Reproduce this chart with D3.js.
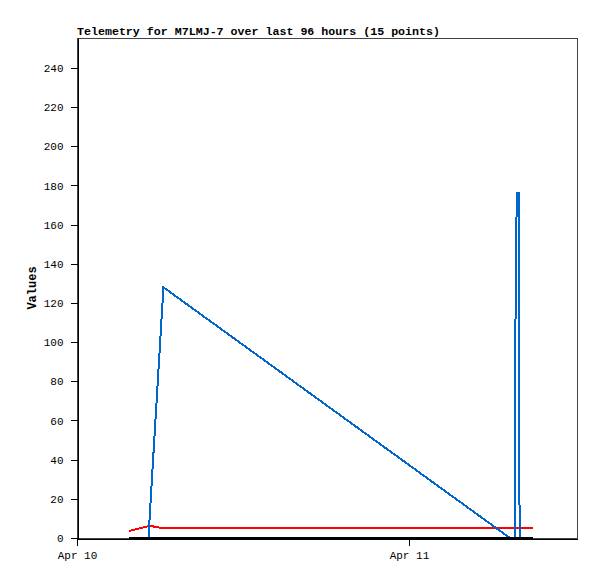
<!DOCTYPE html>
<html>
<head>
<meta charset="utf-8">
<script src="https://cdn.jsdelivr.net/npm/d3@7"></script>
<style>
  body { margin: 0; background: #fff; }
  svg { display: block; }
  text { font-family: "Liberation Mono", "DejaVu Sans Mono", monospace; }
</style>
</head>
<body>
<svg id="chart" width="597" height="579"></svg>
<script>
const title = "Telemetry for M7LMJ-7 over last 96 hours (15 points)";
const yLabel = "Values";
const times = ["2024-04-10 03:46", "2024-04-10 05:10", "2024-04-10 05:25", "2024-04-10 06:15",
  "2024-04-11 07:18", "2024-04-11 07:39", "2024-04-11 07:40", "2024-04-11 07:43",
  "2024-04-11 07:48", "2024-04-11 07:56", "2024-04-11 07:57", "2024-04-11 07:58",
  "2024-04-11 08:00", "2024-04-11 08:32", "2024-04-11 08:58"];
const blueValues = [0, 0, 30, 128, 0, 0, 44, 132, 176, 176, 132, 88, 0, 0, 0];
const redValues = [3.6, 6.1, 6.0, 5.0, 5, 5, 5, 5, 5, 5, 5, 5, 5, 5, 5];
const blackValues = [0, 0, 0, 0, 0, 0, 0, 0, 0, 0, 0, 0, 0, 0, 0];
const xDomain = ["2024-04-10 00:00", "2024-04-11 12:09"];
const xTicks = ["2024-04-10 00:00", "2024-04-11 00:00"];
const xTickLabels = ["Apr 10", "Apr 11"];
const yTicks = [0, 20, 40, 60, 80, 100, 120, 140, 160, 180, 200, 220, 240];
const yMax = 255.3;

const parse = d3.timeParse("%Y-%m-%d %H:%M");
const svg = d3.select("#chart");
const m = { left: 77, top: 38, right: 577, bottom: 538 };

const x = d3.scaleTime().domain(xDomain.map(parse)).range([m.left, m.right]);
const y = d3.scaleLinear().domain([0, yMax]).range([m.bottom, m.top]);

// frame
svg.append("rect")
  .attr("x", m.left + 0.5).attr("y", m.top + 0.5)
  .attr("width", m.right - m.left).attr("height", m.bottom - m.top)
  .attr("fill", "none").attr("stroke", "#444").attr("stroke-width", 1)
  .attr("shape-rendering", "crispEdges");

// y axis
const yAxis = d3.axisLeft(y).tickValues(yTicks).tickSize(7).tickPadding(7).tickSizeOuter(0);
const gy = svg.append("g").attr("transform", `translate(${m.left + 0.5},0)`).call(yAxis);
gy.select(".domain").attr("stroke", "#000").attr("shape-rendering", "crispEdges");
gy.selectAll(".tick line").attr("stroke", "#000").attr("shape-rendering", "crispEdges");
gy.selectAll("text").attr("font-size", "11px").attr("fill", "#000")
  .style("font-family", '"Liberation Mono", "DejaVu Sans Mono", monospace');

// x axis
const xAxis = d3.axisBottom(x).tickValues(xTicks.map(parse))
  .tickFormat((d, i) => xTickLabels[i]).tickSize(7).tickPadding(6).tickSizeOuter(0);
const gx = svg.append("g").attr("transform", `translate(0,${m.bottom + 0.5})`).call(xAxis);
gx.select(".domain").attr("stroke", "#000").attr("shape-rendering", "crispEdges");
gx.selectAll(".tick line").attr("stroke", "#000").attr("shape-rendering", "crispEdges");
gx.selectAll("text").attr("font-size", "11px").attr("fill", "#000")
  .style("font-family", '"Liberation Mono", "DejaVu Sans Mono", monospace');

// series
const pts = vals => times.map((t, i) => ({ t: parse(t), v: vals[i] }));
const line = d3.line().x(d => x(d.t)).y(d => y(d.v));
const series = [
  { vals: redValues, color: "#ff0000" },
  { vals: blueValues, color: "#0066cc" },
  { vals: blackValues, color: "#000000" }
];
series.forEach(s => {
  svg.append("path")
    .datum(pts(s.vals))
    .attr("d", line)
    .attr("fill", "none")
    .attr("stroke", s.color)
    .attr("stroke-width", 2)
    .attr("shape-rendering", "crispEdges");
});

// title
svg.append("text")
  .attr("x", m.left).attr("y", 35)
  .attr("font-size", "11.7px").attr("font-weight", "bold").attr("fill", "#000")
  .attr("textLength", 363).attr("lengthAdjust", "spacingAndGlyphs")
  .text(title);

// y label
svg.append("text")
  .attr("transform", `translate(36,${(m.top + m.bottom) / 2}) rotate(-90)`)
  .attr("text-anchor", "middle")
  .attr("font-size", "12px").attr("font-weight", "bold").attr("fill", "#000")
  .text(yLabel);
</script>
</body>
</html>
